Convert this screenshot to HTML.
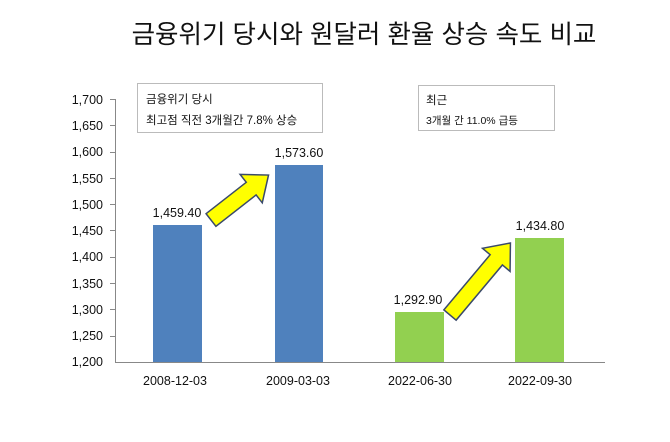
<!DOCTYPE html>
<html><head><meta charset="utf-8"><style>
body{margin:0;background:#fff;}
svg text{font-family:"Liberation Sans","Noto Sans CJK KR",sans-serif;}
</style></head><body>
<svg width="670" height="437" viewBox="0 0 670 437" xmlns="http://www.w3.org/2000/svg">
<rect width="670" height="437" fill="#fff"/>
<text x="364" y="43" font-size="25.5" text-anchor="middle" fill="#111">금융위기 당시와 원달러 환율 상승 속도 비교</text>
<g font-size="12.5" fill="#111" text-anchor="end">
<text x="103" y="104">1,700</text><text x="103" y="130">1,650</text><text x="103" y="156">1,600</text>
<text x="103" y="183">1,550</text><text x="103" y="209">1,500</text><text x="103" y="235">1,450</text>
<text x="103" y="261">1,400</text><text x="103" y="288">1,350</text><text x="103" y="314">1,300</text>
<text x="103" y="340">1,250</text><text x="103" y="366">1,200</text>
</g>
<g stroke="#888" stroke-width="1">
<line x1="115.5" y1="99" x2="115.5" y2="362"/>
<line x1="115" y1="362.5" x2="605" y2="362.5"/>
<line x1="110" y1="99.5" x2="115" y2="99.5"/><line x1="110" y1="125.5" x2="115" y2="125.5"/>
<line x1="110" y1="152.5" x2="115" y2="152.5"/><line x1="110" y1="178.5" x2="115" y2="178.5"/>
<line x1="110" y1="204.5" x2="115" y2="204.5"/><line x1="110" y1="230.5" x2="115" y2="230.5"/>
<line x1="110" y1="257.5" x2="115" y2="257.5"/><line x1="110" y1="283.5" x2="115" y2="283.5"/>
<line x1="110" y1="309.5" x2="115" y2="309.5"/><line x1="110" y1="336.5" x2="115" y2="336.5"/>
</g>
<rect x="153" y="225" width="49" height="137" fill="#4f81bd"/>
<rect x="275" y="165" width="48" height="197" fill="#4f81bd"/>
<rect x="395" y="312" width="49" height="50" fill="#92d050"/>
<rect x="515" y="238" width="49" height="124" fill="#92d050"/>
<g font-size="12.5" fill="#111" text-anchor="middle">
<text x="177" y="217">1,459.40</text><text x="299" y="157">1,573.60</text>
<text x="418" y="304">1,292.90</text><text x="540" y="230">1,434.80</text>
</g>
<g font-size="12.5" fill="#111" text-anchor="middle">
<text x="175" y="385">2008-12-03</text><text x="298" y="385">2009-03-03</text>
<text x="420" y="385">2022-06-30</text><text x="540" y="385">2022-09-30</text>
</g>
<rect x="137.5" y="83.5" width="185" height="49" fill="#fff" stroke="#bbb"/>
<text x="146" y="103" font-size="11.5" fill="#111">금융위기 당시</text>
<text x="146" y="124" font-size="11.5" fill="#111">최고점 직전 3개월간 7.8% 상승</text>
<rect x="418.5" y="85.5" width="136" height="45" fill="#fff" stroke="#bbb"/>
<text x="426" y="104" font-size="11.5" fill="#111">최근</text>
<text x="426" y="124" font-size="10.5" fill="#111">3개월 간 11.0% 급등</text>
<g transform="translate(211,220) rotate(-38)">
<polygon points="0,-8 51,-8 51,-18 73,0 51,18 51,8 0,8" fill="#ffff00" stroke="#3a4a6a" stroke-width="1.5"/>
</g>
<g transform="translate(450,315) rotate(-50)">
<polygon points="0,-8 72,-8 72,-18 94,0 72,18 72,8 0,8" fill="#ffff00" stroke="#3a4a6a" stroke-width="1.5"/>
</g>
</svg>
</body></html>
